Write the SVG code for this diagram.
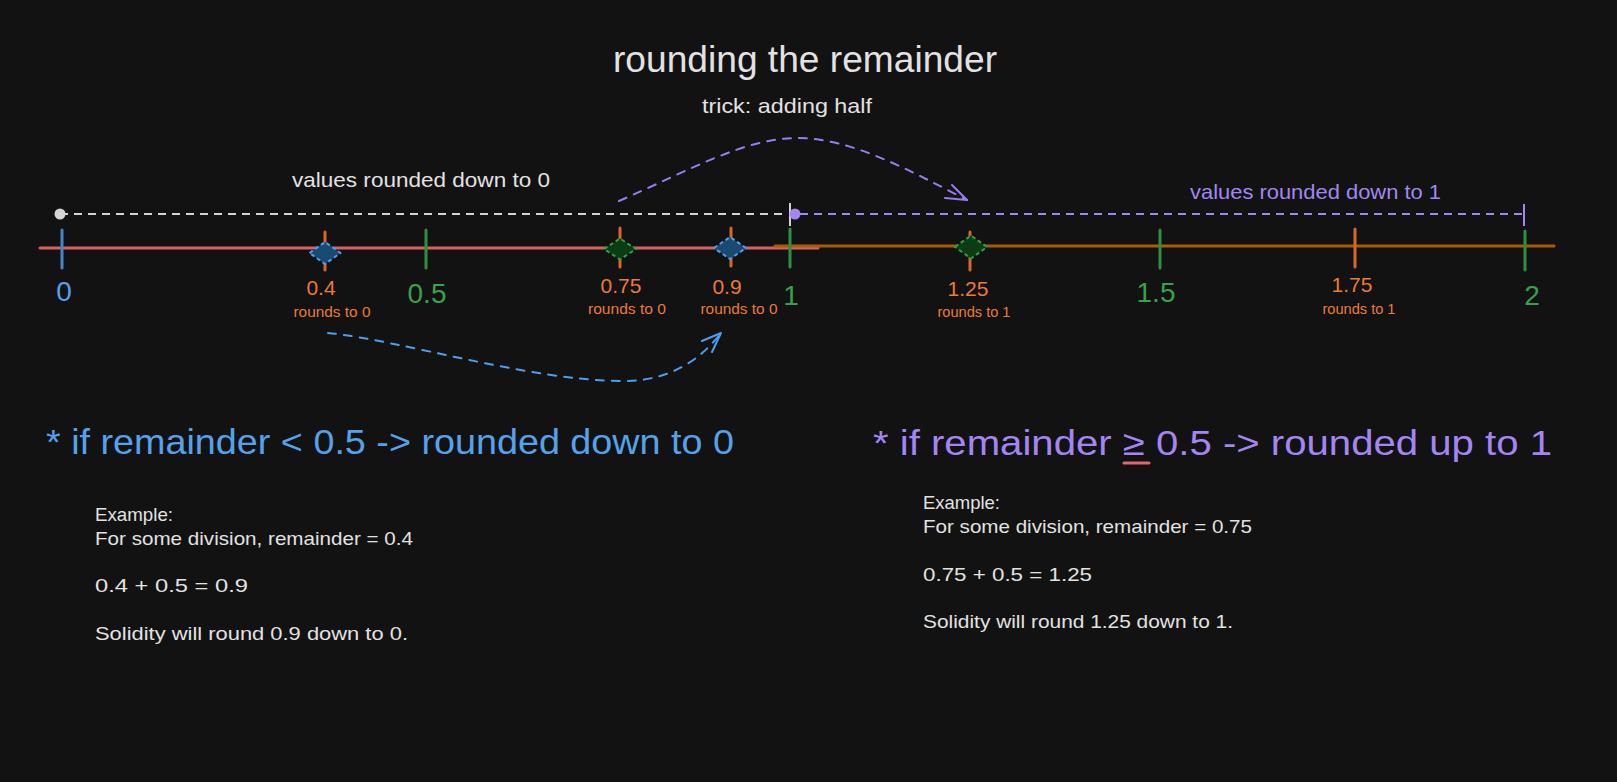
<svg xmlns="http://www.w3.org/2000/svg" width="1617" height="782" viewBox="0 0 1617 782">
<style>
text{font-family:"Liberation Sans",Arial,sans-serif}
.lt{fill:#e2e2e2}
.bl{fill:#56a2ea}
.pu{fill:#a386f2}
.or{fill:#ec7b35}
.gr{fill:#37a24b}
.tk{stroke-width:3;stroke-linecap:round}
.tko{stroke:#d8662b}
.tkg{stroke:#2f8f40}
.dia{stroke-width:2;stroke-dasharray:4 3;stroke-linejoin:round}
.dblue{fill:#1a4a72;stroke:#4c9ff0}
.dgreen{fill:#0a3d13;stroke:#2f9e44}
.lbl-s{font-size:14px}
.lbl-o{font-size:21px}
.lbl-g{font-size:28px}
.ex{font-size:19px}
</style>
<rect width="1617" height="782" fill="#121212"/>

<g id="title">
<text class="lt" x="613" y="72" font-size="36" textLength="384" lengthAdjust="spacingAndGlyphs">rounding the remainder</text>
</g>
<g id="subtitle">
<text class="lt" x="702" y="113" font-size="21" textLength="170" lengthAdjust="spacingAndGlyphs">trick: adding half</text>
</g>

<g id="range-zero">
<text class="lt" x="292" y="187" font-size="21" textLength="258" lengthAdjust="spacingAndGlyphs">values rounded down to 0</text>
<line x1="60" y1="214" x2="786" y2="214" stroke="#d4d4d4" stroke-width="2" stroke-dasharray="8 6"/>
<circle cx="60" cy="214" r="5.5" fill="#d4d4d4"/>
<line x1="790" y1="203" x2="790" y2="226" stroke="#d4d4d4" stroke-width="2"/>
</g>

<g id="range-one">
<text class="pu" x="1190" y="199" font-size="21" textLength="251" lengthAdjust="spacingAndGlyphs">values rounded down to 1</text>
<line x1="800" y1="214" x2="1522" y2="214" stroke="#a386f2" stroke-width="2" stroke-dasharray="8 6"/>
<circle cx="795" cy="214" r="5.5" fill="#a386f2"/>
<line x1="1524" y1="204" x2="1524" y2="226" stroke="#a386f2" stroke-width="2"/>
</g>

<g id="number-line">
<line x1="40" y1="248" x2="818" y2="248" stroke="#d9605e" stroke-width="3" stroke-linecap="round"/>
<line x1="775" y1="246" x2="1554" y2="246" stroke="#a85c05" stroke-width="3" stroke-linecap="round"/>
</g>

<g id="tick-0">
<line class="tk" x1="62" y1="230" x2="62" y2="268" stroke="#4287c9"/>
<text class="bl lbl-g" x="64" y="301" text-anchor="middle">0</text>
</g>
<g id="tick-0.4">
<line class="tk tko" x1="325" y1="232" x2="325" y2="270"/>
<path class="dia dblue" d="M309.5,253 L325,242 L340.5,253 L325,264 Z"/>
<text class="or lbl-o" x="321" y="295" text-anchor="middle">0.4</text>
<text class="or lbl-s" x="332" y="317" text-anchor="middle" textLength="77" lengthAdjust="spacingAndGlyphs">rounds to 0</text>
</g>
<g id="tick-0.5">
<line class="tk tkg" x1="426" y1="230" x2="426" y2="268"/>
<text class="gr lbl-g" x="427" y="303" text-anchor="middle">0.5</text>
</g>
<g id="tick-0.75">
<line class="tk tko" x1="620" y1="228" x2="620" y2="267"/>
<path class="dia dgreen" d="M604,249 L620,238.5 L636,249 L620,259.5 Z"/>
<text class="or lbl-o" x="621" y="293" text-anchor="middle">0.75</text>
<text class="or lbl-s" x="627" y="314" text-anchor="middle" textLength="78" lengthAdjust="spacingAndGlyphs">rounds to 0</text>
</g>
<g id="tick-0.9">
<line class="tk tko" x1="731" y1="228" x2="731" y2="266"/>
<path class="dia dblue" d="M714,248 L730,237 L746,248 L730,259 Z"/>
<text class="or lbl-o" x="727" y="294" text-anchor="middle">0.9</text>
<text class="or lbl-s" x="739" y="314" text-anchor="middle" textLength="77" lengthAdjust="spacingAndGlyphs">rounds to 0</text>
</g>
<g id="tick-1">
<line class="tk tkg" x1="790" y1="229" x2="790" y2="267"/>
<text class="gr lbl-g" x="791" y="305" text-anchor="middle">1</text>
</g>
<g id="tick-1.25">
<line class="tk tko" x1="970" y1="232" x2="970" y2="270"/>
<path class="dia dgreen" d="M955,247 L971,235.5 L987,247 L971,258.5 Z"/>
<text class="or lbl-o" x="968" y="296" text-anchor="middle">1.25</text>
<text class="or lbl-s" x="974" y="317" text-anchor="middle" textLength="73" lengthAdjust="spacingAndGlyphs">rounds to 1</text>
</g>
<g id="tick-1.5">
<line class="tk tkg" x1="1160" y1="230" x2="1160" y2="268"/>
<text class="gr lbl-g" x="1156" y="302" text-anchor="middle">1.5</text>
</g>
<g id="tick-1.75">
<line class="tk tko" x1="1355" y1="229" x2="1355" y2="267"/>
<text class="or lbl-o" x="1352" y="292" text-anchor="middle">1.75</text>
<text class="or lbl-s" x="1359" y="314" text-anchor="middle" textLength="73" lengthAdjust="spacingAndGlyphs">rounds to 1</text>
</g>
<g id="tick-2">
<line class="tk tkg" x1="1525" y1="231" x2="1525" y2="270"/>
<text class="gr lbl-g" x="1532" y="305" text-anchor="middle">2</text>
</g>

<g id="connectors" fill="none" stroke-width="2" stroke-linecap="round" stroke-linejoin="round">
<g id="arrow-add-half">
<path d="M619,201 C690,170 745,138 797,138 C850,138 905,168 967,200" stroke="#9b7cf0" stroke-dasharray="8 8"/>
<path d="M945,198 L967,200 L952,185" stroke="#9b7cf0"/>
</g>
<g id="arrow-0.4-to-0.9">
<path d="M328,333 C400,340 530,381 623,381 C670,381 700,360 721,333" stroke="#4c9ff0" stroke-dasharray="8 8"/>
<path d="M702,341 L721,333 L712,352" stroke="#4c9ff0"/>
</g>
</g>

<g id="rule-down">
<text class="bl" x="46" y="454" font-size="35" textLength="688" lengthAdjust="spacingAndGlyphs">* if remainder &lt; 0.5 -&gt; rounded down to 0</text>
</g>
<g id="rule-up">
<text class="pu" x="873" y="455" font-size="35" textLength="679" lengthAdjust="spacingAndGlyphs">* if remainder ≥ 0.5 -&gt; rounded up to 1</text>
<line x1="1124" y1="463" x2="1149" y2="463" stroke="#e0676a" stroke-width="3" stroke-linecap="round"/>
</g>

<g id="example-down">
<text class="lt ex" x="95" y="521" textLength="78" lengthAdjust="spacingAndGlyphs">Example:</text>
<text class="lt ex" x="95" y="545" textLength="318" lengthAdjust="spacingAndGlyphs">For some division, remainder = 0.4</text>
<text class="lt ex" x="95" y="592" textLength="153" lengthAdjust="spacingAndGlyphs">0.4 + 0.5 = 0.9</text>
<text class="lt ex" x="95" y="640" textLength="313" lengthAdjust="spacingAndGlyphs">Solidity will round 0.9 down to 0.</text>
</g>
<g id="example-up">
<text class="lt ex" x="923" y="509" textLength="77" lengthAdjust="spacingAndGlyphs">Example:</text>
<text class="lt ex" x="923" y="533" textLength="329" lengthAdjust="spacingAndGlyphs">For some division, remainder = 0.75</text>
<text class="lt ex" x="923" y="581" textLength="169" lengthAdjust="spacingAndGlyphs">0.75 + 0.5 = 1.25</text>
<text class="lt ex" x="923" y="628" textLength="310" lengthAdjust="spacingAndGlyphs">Solidity will round 1.25 down to 1.</text>
</g>
</svg>
